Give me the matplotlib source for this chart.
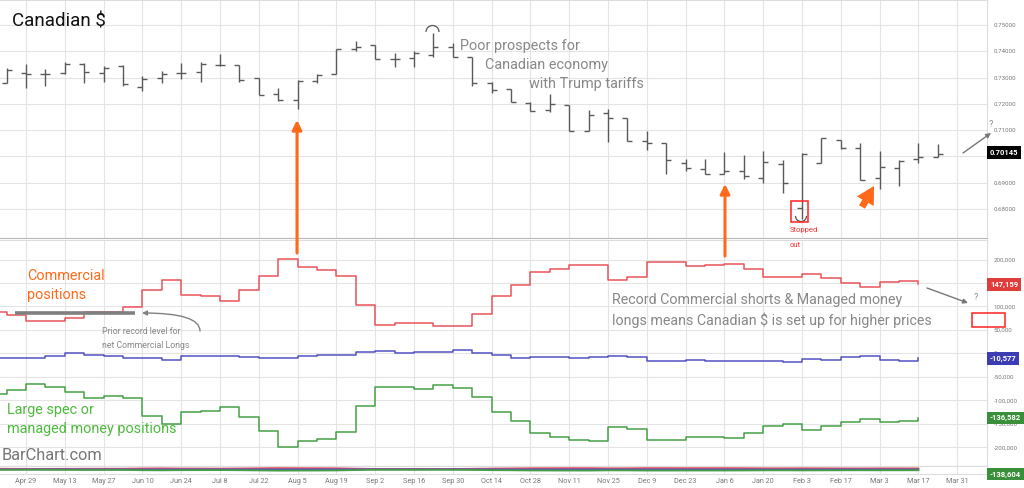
import datetime as dt
import matplotlib
matplotlib.use("Agg")
import matplotlib.pyplot as plt
import matplotlib.dates as mdates
from matplotlib.patches import FancyArrowPatch, Arc, Rectangle

plt.rcParams['font.family'] = ['Roboto', 'DejaVu Sans']

# weekly Canadian $ futures bars, first bar = week of Apr 22 2024
price_start = dt.date(2024, 4, 22)
opens = [0.7280, 0.7319, 0.7315, 0.7316, 0.7350, 0.7316, 0.7344, 0.7265, 0.7297, 0.7316,
         0.7323, 0.7347, 0.7348, 0.7297, 0.7236, 0.7215, 0.7287, 0.7314, 0.7408, 0.7424,
         0.7370, 0.7373, 0.7386, 0.7415, 0.7380, 0.7278, 0.7255, 0.7205, 0.7177, 0.7196,
         0.7098, 0.7167, 0.7145, 0.7060, 0.7050, 0.6974, 0.6952, 0.6935, 0.6946, 0.6917,
         0.6971, 0.6803, 0.6974, 0.7062, 0.7031, 0.6920, 0.6955, 0.6989, 0.6999]
highs = [0.7335, 0.7352, 0.7332, 0.7361, 0.7354, 0.7344, 0.7348, 0.7307, 0.7325, 0.7357,
         0.7361, 0.7390, 0.7348, 0.7297, 0.7259, 0.7291, 0.7314, 0.7408, 0.7440, 0.7424,
         0.7392, 0.7402, 0.7468, 0.7430, 0.7380, 0.7284, 0.7255, 0.7208, 0.7238, 0.7196,
         0.7177, 0.7179, 0.7145, 0.7097, 0.7050, 0.6989, 0.6989, 0.7018, 0.7006, 0.7022,
         0.6987, 0.7014, 0.7069, 0.7063, 0.7053, 0.7022, 0.6987, 0.7050, 0.7048]
lows = [0.7278, 0.7259, 0.7269, 0.7314, 0.7278, 0.7282, 0.7269, 0.7250, 0.7278, 0.7293,
        0.7282, 0.7344, 0.7284, 0.7234, 0.7211, 0.7179, 0.7281, 0.7314, 0.7402, 0.7370,
        0.7342, 0.7342, 0.7380, 0.7377, 0.7268, 0.7243, 0.7208, 0.7173, 0.7170, 0.7098,
        0.7097, 0.7056, 0.7060, 0.7025, 0.6932, 0.6946, 0.6933, 0.6933, 0.6913, 0.6898,
        0.6860, 0.6761, 0.6974, 0.7027, 0.6911, 0.6875, 0.6888, 0.6974, 0.6999]
closes = [0.7329, 0.7313, 0.7315, 0.7350, 0.7320, 0.7338, 0.7274, 0.7293, 0.7314, 0.7316,
          0.7350, 0.7348, 0.7291, 0.7234, 0.7215, 0.7288, 0.7310, 0.7408, 0.7415, 0.7370,
          0.7370, 0.7392, 0.7418, 0.7377, 0.7278, 0.7253, 0.7208, 0.7173, 0.7198, 0.7098,
          0.7158, 0.7145, 0.7060, 0.7053, 0.6987, 0.6955, 0.6933, 0.6946, 0.6926, 0.6980,
          0.6900, 0.7008, 0.7069, 0.7031, 0.6911, 0.6959, 0.6984, 0.6999, 0.7009]
last_price = 0.70145

# COT net positions, first value = week of Apr 15 2024
cot_start = dt.date(2024, 4, 15)
commercials = [89000, 82500, 68500, 68500, 75500, 89000, 89000, 98300, 135700, 156400,
               124500, 121700, 111000, 135700, 165500, 201000, 183400, 178300, 164000, 103000,
               60600, 64900, 65000, 57900, 57900, 84000, 121700, 146400, 172800, 179800,
               189000, 189000, 156400, 163400, 194000, 194000, 186800, 188000, 190400, 179800,
               162000, 162000, 169000, 160600, 149400, 140800, 152800, 155000, 147159]
small_specs = [-10200, -10200, -10200, -4600, 400, -3000, -6000, -10200, -10000, -13000,
               -6000, -6000, -4600, -8000, -9500, -9500, -6000, -3200, -3200, 2500,
               4600, 400, 2500, 3900, 7400, 1100, -3200, -10200, -8000, -8000,
               -10000, -8000, -6000, -8000, -15300, -15300, -14000, -15300, -15300, -15300,
               -15300, -17400, -11700, -14000, -8000, -6000, -13000, -15300, -10577]
large_specs = [-86000, -77000, -65000, -72000, -81000, -94700, -89800, -94700, -132000, -150000,
               -125000, -121700, -113000, -134500, -164000, -198000, -185500, -182000, -166000, -112000,
               -70600, -71500, -75500, -67700, -73000, -92000, -125000, -143000, -170000, -177000,
               -184000, -187000, -155700, -161000, -184000, -184000, -178000, -177000, -180000, -170000,
               -153600, -150000, -163000, -153600, -146000, -140000, -146000, -144000, -136582]
prior_record = 87000

price_ticks = [0.68, 0.69, 0.70, 0.71, 0.72, 0.73, 0.74, 0.75]
cot_ticks = [-200000, -150000, -100000, -50000, 0, 50000, 100000, 150000, 200000]
cot_tick_labels = ['-200,000', '-150,000', '-100,000', '-50,000', '0', '50,000', '100,000', '', '200,000']

W, H = 1024, 488


def fx(px):
    return px / W


def fy(py):
    return 1 - py / H


price_x = [mdates.date2num(price_start + dt.timedelta(weeks=i)) for i in range(len(opens))]
cot_x = [mdates.date2num(cot_start + dt.timedelta(weeks=i)) for i in range(len(commercials))]
first_label = dt.date(2024, 4, 29)
label_dates = [first_label + dt.timedelta(days=14 * i) for i in range(25)]
tick_x = [mdates.date2num(d) for d in label_dates]
tick_lbl = [d.strftime('%b ') + str(d.day) for d in label_dates]
px_per_day = 19.4 / 7
x0 = mdates.date2num(first_label)
xlim = (x0 - 26 / px_per_day, x0 + (987 - 26) / px_per_day)

fig = plt.figure(figsize=(10.24, 4.88), dpi=100)
ax1 = fig.add_axes([0, fy(238), 987 / W, 238 / H])
ax2 = fig.add_axes([0, fy(466), 987 / W, 226 / H])
ax3 = fig.add_axes([0, fy(474), 987 / W, 8 / H])

grid_c = '#e4e4e4'
for ax in (ax1, ax2, ax3):
    ax.set_xlim(xlim)
    ax.set_xticks(tick_x)
    ax.grid(color=grid_c, lw=0.8)
    ax.set_axisbelow(True)
    ax.yaxis.tick_right()
    ax.tick_params(length=0, labelsize=4.4, labelcolor='#777777', pad=5)
    for s in ax.spines.values():
        s.set_color('#dddddd')
        s.set_linewidth(0.8)
    ax.spines['left'].set_visible(False)
ax1.spines['bottom'].set_color('#b8b8b8')
ax2.spines['bottom'].set_color('#b8b8b8')
ax1.tick_params(axis='x', labelbottom=False)
ax2.tick_params(axis='x', labelbottom=False)
ax3.set_xticklabels(tick_lbl)
ax3.tick_params(axis='x', labelsize=5.2, pad=3)
ax3.set_yticks([])

# price bars
tw = 5 / px_per_day
bar_c = '#5a5a5a'
ax1.vlines(price_x, lows, highs, color=bar_c, lw=1)
ax1.hlines(opens, [x - tw for x in price_x], price_x, color=bar_c, lw=1)
ax1.hlines(closes, price_x, [x + tw for x in price_x], color=bar_c, lw=1)
ax1.set_ylim(0.6690, 0.7595)
ax1.set_yticks(price_ticks)
ax1.set_yticklabels([f'{v:.5f}' for v in price_ticks])
ax1.text(1.003, last_price, f'{last_price:.5f}', transform=ax1.get_yaxis_transform(),
         ha='left', va='center', fontsize=5.5, fontweight='bold', color='white', clip_on=False,
         bbox=dict(boxstyle='square,pad=0.35', fc='black', ec='none'), zorder=10)

# COT lines
red_c, blue_c, green_c = '#e8545a', '#5252c4', '#45a045'
ax2.step(cot_x, commercials, where='post', color=red_c, lw=1.1)
ax2.step(cot_x, small_specs, where='post', color=blue_c, lw=1.1)
ax2.step(cot_x, large_specs, where='post', color=green_c, lw=1.1)
ax2.set_ylim(-239400, 241500)
ax2.set_yticks(cot_ticks)
ax2.set_yticklabels(cot_tick_labels)
ax2.hlines(prior_record, cot_x[1] + 3, cot_x[1] + 46.5, color='#808080', lw=2.6, zorder=4)
for val, col in ((commercials[-1], '#e03c3c'), (small_specs[-1], '#3c3cb4'), (large_specs[-1], '#3a8f3a')):
    ax2.text(1.003, val, f'{val:,}', transform=ax2.get_yaxis_transform(),
             ha='left', va='center', fontsize=5.5, fontweight='bold', color='white', clip_on=False,
             bbox=dict(boxstyle='square,pad=0.35', fc=col, ec='none'), zorder=10)

# bottom strip
ax3.plot(cot_x, commercials, color=red_c, lw=1.3)
ax3.plot(cot_x, small_specs, color=blue_c, lw=1.3)
ax3.plot(cot_x, large_specs, color=green_c, lw=1.3)
ax3.set_ylim(-700000, 500000)
fig.text(fx(990), fy(474), '-138,604', ha='left', va='center', fontsize=5.5, fontweight='bold',
         color='white', bbox=dict(boxstyle='square,pad=0.35', fc='#3a8f3a', ec='none'))

# texts
grey = '#888888'
orange = '#ff6a1a'
fig.text(fx(12), fy(22), 'Canadian $', fontsize=13.5, color='#111111', ha='left', va='center')
fig.text(fx(460), fy(46), 'Poor prospects for', fontsize=10.4, color=grey, ha='left', va='center')
fig.text(fx(485), fy(65), 'Canadian economy', fontsize=10.4, color=grey, ha='left', va='center')
fig.text(fx(529), fy(84), 'with Trump tariffs', fontsize=10.4, color=grey, ha='left', va='center')
fig.text(fx(612), fy(300), 'Record Commercial shorts & Managed money', fontsize=10.3, color=grey,
         ha='left', va='center')
fig.text(fx(612), fy(320), 'longs means Canadian $ is set up for higher prices', fontsize=10.3,
         color=grey, ha='left', va='center')
fig.text(fx(27), fy(275.5), 'Commercial', fontsize=10.4, color=orange, ha='left', va='center')
fig.text(fx(27), fy(295), 'positions', fontsize=10.4, color=orange, ha='left', va='center')
fig.text(fx(7), fy(410), 'Large spec or', fontsize=10.4, color='#4cbb3c', ha='left', va='center')
fig.text(fx(7), fy(429), 'managed money positions', fontsize=10.4, color='#4cbb3c', ha='left', va='center')
fig.text(fx(2), fy(455), 'BarChart.com', fontsize=11.8, color='#777777', ha='left', va='center')
fig.text(fx(102), fy(331), 'Prior record level for', fontsize=6.3, color=grey, ha='left', va='center')
fig.text(fx(102), fy(345), 'net Commercial Longs', fontsize=6.3, color=grey, ha='left', va='center')
fig.text(fx(790), fy(230), 'Stopped', fontsize=5.5, color='#ff3030', ha='left', va='center')
fig.text(fx(790), fy(245), 'out', fontsize=5.5, color='#ff3030', ha='left', va='center')
fig.text(fx(991), fy(125), '?', fontsize=6.5, color=grey, ha='center', va='center')
fig.text(fx(976), fy(298), '?', fontsize=6.5, color=grey, ha='center', va='center')


def arrow(a, b, **kw):
    p = FancyArrowPatch((fx(a[0]), fy(a[1])), (fx(b[0]), fy(b[1])), transform=fig.transFigure,
                        shrinkA=0, shrinkB=0, **kw)
    fig.add_artist(p)


arrow((297, 253), (297, 120), arrowstyle='-|>', color=orange, lw=2.2, mutation_scale=14)
arrow((725, 256), (725, 184), arrowstyle='-|>', color=orange, lw=2.2, mutation_scale=14)
arrow((862, 207), (874, 186), arrowstyle='simple,head_length=0.9,head_width=1.0,tail_width=0.35',
      color=orange, mutation_scale=14, lw=0)
arrow((963, 153), (991, 133), arrowstyle='-|>', color='#777777', lw=1, mutation_scale=7)
arrow((927, 288), (968, 303), arrowstyle='-|>', color='#777777', lw=1, mutation_scale=7)
arrow((200, 331), (142, 313), arrowstyle='-|>', color='#808080', lw=1, mutation_scale=7,
      connectionstyle='angle3,angleA=90,angleB=0')

fig.add_artist(Arc((fx(432.5), fy(32)), 13 / W, 13 / H, theta1=0, theta2=180,
                   transform=fig.transFigure, color='#555555', lw=0.9))
fig.add_artist(Arc((fx(801), fy(216)), 11 / W, 11 / H, theta1=180, theta2=360,
                   transform=fig.transFigure, color='#555555', lw=0.9))
fig.add_artist(Rectangle((fx(791), fy(222)), 17 / W, 21 / H, transform=fig.transFigure,
                         fill=False, ec='#ff2020', lw=1.1))
fig.add_artist(Rectangle((fx(972), fy(327)), 33 / W, 14.5 / H, transform=fig.transFigure,
                         fill=False, ec='#ff2020', lw=1.1))

fig.savefig('out.png', dpi=100, facecolor='white')
